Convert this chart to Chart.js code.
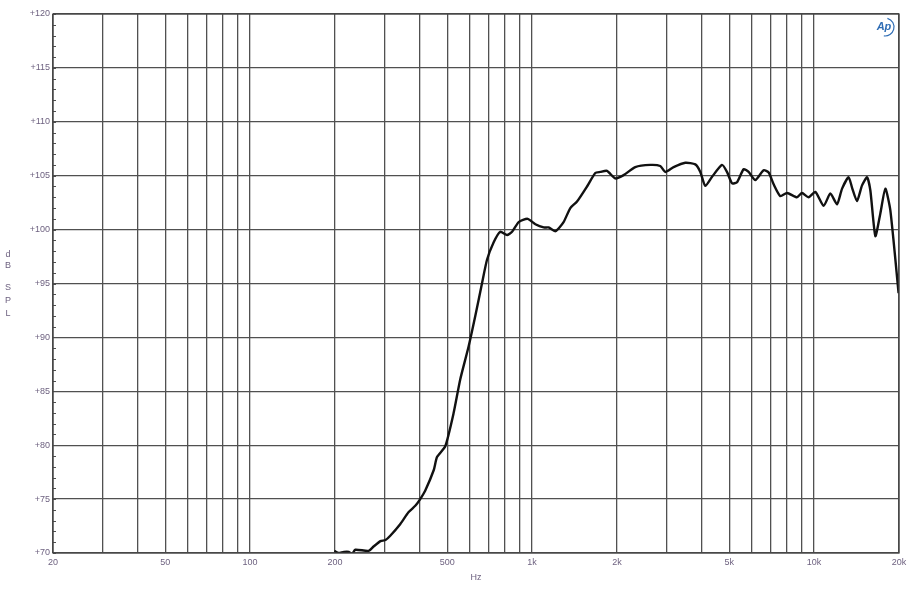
<!DOCTYPE html>
<html>
<head>
<meta charset="utf-8">
<script src="https://cdn.jsdelivr.net/npm/chart.js@4/dist/chart.umd.min.js"></script>
<style>
  html, body { margin: 0; padding: 0; background: #fff; }
  #wrap { width: 914px; height: 600px; position: relative; }
</style>
</head>
<body>
<div id="wrap"><canvas id="c" width="914" height="600"></canvas></div>
<script>
// Frequency response data (Hz, dB SPL)
const freqs = [199, 206, 215, 224, 230, 236, 263, 274, 290, 302, 314, 341, 365, 386, 401, 418, 448,
  460, 492, 527, 556, 596, 629, 664, 692, 730, 771, 815, 849, 896, 964, 1027, 1099, 1144, 1209,
  1293, 1366, 1443, 1566, 1675, 1745, 1843, 1973, 2111, 2322, 2625, 2847, 2966, 3175, 3494, 3791,
  3949, 4114, 4346, 4715, 4910, 5115, 5330, 5624, 5858, 6187, 6622, 6900, 7186, 7590, 8017, 8696,
  9058, 9557, 10100, 10808, 11417, 12058, 12565, 13255, 13628, 14197, 14790, 15406, 15826, 16487,
  17174, 17888, 18632, 19935];
const spl = [70.2, 70.0, 70.1, 70.1, 69.9, 70.3, 70.2, 70.6, 71.1, 71.2, 71.6, 72.7, 73.8, 74.4, 75.0, 75.8, 77.7,
  78.9, 79.9, 83.0, 86.1, 89.2, 92.0, 95.0, 97.2, 98.8, 99.8, 99.5, 99.8, 100.7, 101.0, 100.5, 100.2, 100.2, 99.85,
  100.7, 102.0, 102.6, 104.0, 105.25, 105.35, 105.45, 104.75, 105.05, 105.8, 106.0, 105.9, 105.35, 105.8, 106.2, 106.05,
  105.35, 104.05, 104.9, 106.0, 105.35, 104.3, 104.4, 105.6, 105.35, 104.6, 105.5, 105.3, 104.2, 103.1, 103.4, 103.0,
  103.4, 103.0, 103.5, 102.2, 103.35, 102.35, 103.8, 104.85, 103.9, 102.65, 104.1, 104.85, 103.65, 99.4,
  101.5, 103.8, 101.8, 94.1];

// Grid frequencies and labelled ticks
const gridFreqs = [20, 30, 40, 50, 60, 70, 80, 90, 100, 200, 300, 400, 500, 600, 700, 800, 900,
  1000, 2000, 3000, 4000, 5000, 6000, 7000, 8000, 9000, 10000, 20000];
const freqLabels = { 20: "20", 50: "50", 100: "100", 200: "200", 500: "500", 1000: "1k",
  2000: "2k", 5000: "5k", 10000: "10k", 20000: "20k" };
const splMin = 70, splMax = 120, splStep = 5;

const labelColor = "#6e6280";
const gridColor = "#505050";

// Minor dB ticks, axis titles and logo
const decorPlugin = {
  id: "decor",
  afterDraw(chart) {
    const ctx = chart.ctx;
    const a = chart.chartArea;
    const y = chart.scales.y;
    ctx.save();
    ctx.strokeStyle = gridColor;
    ctx.lineWidth = 1;
    for (let v = splMin; v <= splMax; v++) {
      const py = Math.round(y.getPixelForValue(v)) + 0.5;
      ctx.beginPath();
      ctx.moveTo(a.left, py);
      ctx.lineTo(a.left + 3, py);
      ctx.stroke();
    }
    ctx.strokeStyle = "#444";
    ctx.lineWidth = 1.3;
    ctx.strokeRect(a.left, a.top, a.right - a.left, a.bottom - a.top);

    ctx.fillStyle = labelColor;
    ctx.font = "9px 'Liberation Sans', Arial, sans-serif";
    ctx.textAlign = "center";
    ctx.textBaseline = "middle";
    ctx.fillText("Hz", (a.left + a.right) / 2, 578);
    const letters = [["d", 255], ["B", 266], ["S", 288], ["P", 301], ["L", 314]];
    letters.forEach(([ch, py]) => ctx.fillText(ch, 8, py));

    // Ap logo
    ctx.fillStyle = "#2f6db5";
    ctx.font = "italic bold 11px 'Liberation Sans', Arial, sans-serif";
    ctx.fillText("Ap", a.right - 15, a.top + 13);
    ctx.strokeStyle = "#2f6db5";
    ctx.lineWidth = 1.2;
    ctx.beginPath();
    ctx.arc(a.right - 14, a.top + 13, 9, -1.3, 1.7);
    ctx.stroke();
    ctx.restore();
  }
};

new Chart(document.getElementById("c"), {
  type: "scatter",
  data: {
    datasets: [{
      data: freqs.map((f, i) => ({ x: f, y: spl[i] })),
      showLine: true,
      borderColor: "#111",
      borderWidth: 2.4,
      pointRadius: 0,
      tension: 0.2,
      fill: false
    }]
  },
  options: {
    responsive: false,
    animation: false,
    devicePixelRatio: 1,
    layout: { padding: { top: 14, right: 15, left: 0, bottom: 0 } },
    plugins: { legend: { display: false }, tooltip: { enabled: false } },
    scales: {
      x: {
        type: "logarithmic",
        min: 20,
        max: 20000,
        afterBuildTicks(scale) {
          scale.ticks = gridFreqs.map(v => ({ value: v }));
        },
        afterFit(scale) { scale.height = 47; },
        ticks: {
          autoSkip: false,
          maxRotation: 0,
          color: labelColor,
          padding: 4,
          font: { size: 9, family: "'Liberation Sans', Arial, sans-serif" },
          callback: (v) => freqLabels[v] || ""
        },
        grid: { color: gridColor, lineWidth: 1.3, drawTicks: false },
        border: { display: false }
      },
      y: {
        min: splMin,
        max: splMax,
        afterFit(scale) { scale.width = 53; },
        ticks: {
          stepSize: splStep,
          color: labelColor,
          padding: 3,
          font: { size: 9, family: "'Liberation Sans', Arial, sans-serif" },
          callback: (v) => "+" + v
        },
        grid: { color: gridColor, lineWidth: 1.3, drawTicks: false },
        border: { display: false }
      }
    }
  },
  plugins: [decorPlugin]
});
</script>
</body>
</html>
